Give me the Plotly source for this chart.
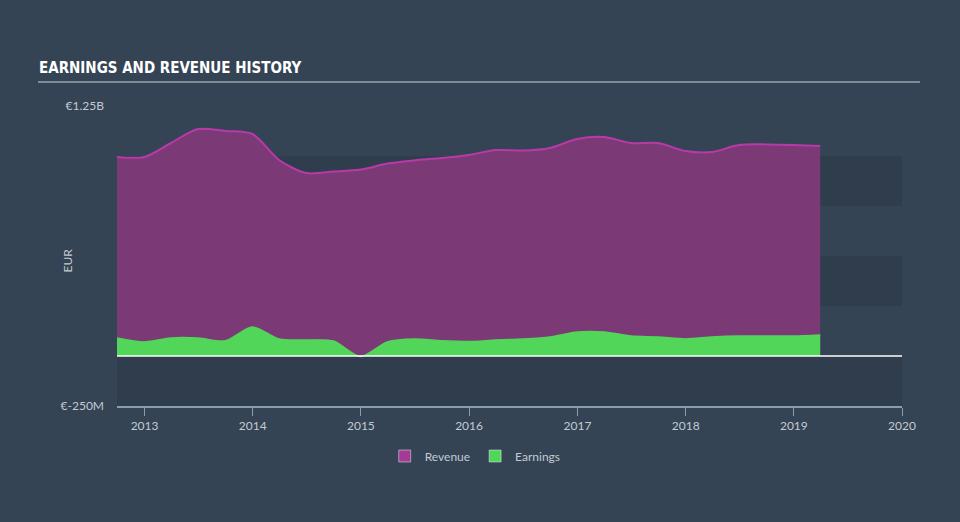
import plotly.graph_objects as go

dates = [
    "2012-09-30", "2012-12-31", "2013-03-31", "2013-06-30", "2013-09-30",
    "2013-12-31", "2014-03-31", "2014-06-30", "2014-09-30", "2014-12-31",
    "2015-03-31", "2015-06-30", "2015-09-30", "2015-12-31", "2016-03-31",
    "2016-06-30", "2016-09-30", "2016-12-31", "2017-03-31", "2017-06-30",
    "2017-09-30", "2017-12-31", "2018-03-31", "2018-06-30", "2018-09-30",
    "2018-12-31", "2019-03-31",
]
revenue = [
    995e6, 995e6, 1065e6, 1135e6, 1125e6,
    1110e6, 980e6, 915e6, 922e6, 932e6,
    962e6, 978e6, 990e6, 1005e6, 1030e6,
    1027e6, 1040e6, 1085e6, 1095e6, 1065e6,
    1065e6, 1025e6, 1020e6, 1055e6, 1058e6,
    1055e6, 1050e6,
]
earnings = [
    90e6, 70e6, 90e6, 90e6, 76e6,
    145e6, 85e6, 80e6, 75e6, -3e6,
    70e6, 85e6, 76e6, 72e6, 80e6,
    85e6, 95e6, 120e6, 120e6, 100e6,
    95e6, 85e6, 95e6, 100e6, 100e6,
    100e6, 105e6,
]
y_ticks = [-250e6, 1.25e9]
y_tick_text = ["€-250M", "€1.25B"]
x_ticks = ["2013-01-01", "2014-01-01", "2015-01-01", "2016-01-01",
           "2017-01-01", "2018-01-01", "2019-01-01", "2020-01-01"]
x_tick_text = ["2013", "2014", "2015", "2016", "2017", "2018", "2019", "2020"]
bands = [(-250e6, 0), (250e6, 500e6), (750e6, 1e9)]

BG = "#344454"
BAND = "#2f3d4c"
FONT = "Lato, Roboto, sans-serif"

fig = go.Figure()
fig.add_trace(go.Scatter(
    x=dates, y=revenue, name="Revenue", mode="lines", showlegend=False,
    line=dict(color="#b83aa8", width=2, shape="spline", smoothing=0.8),
    fill="tozeroy", fillcolor="#7b3a76",
))
fig.add_trace(go.Scatter(
    x=dates, y=earnings, name="Earnings", mode="lines", showlegend=False,
    line=dict(color="#52d659", width=1.5, shape="spline", smoothing=0.8),
    fill="tozeroy", fillcolor="#52d659",
))
# legend entries (square swatches)
fig.add_trace(go.Bar(x=[None], y=[None], name="Revenue", marker_color="#a53a95"))
fig.add_trace(go.Bar(x=[None], y=[None], name="Earnings", marker_color="#52d659"))

for y0, y1 in bands:
    fig.add_shape(type="rect", xref="paper", yref="y", x0=0, x1=1, y0=y0, y1=y1,
                  fillcolor=BAND, line=dict(width=0), layer="below")
fig.add_shape(type="line", xref="paper", yref="y", x0=0, x1=1, y0=0, y1=0,
              line=dict(color="#ffffff", width=1.5), layer="above")

# title and underline
fig.add_annotation(text="<b>EARNINGS AND REVENUE HISTORY</b>", xref="paper", yref="paper",
                   x=(37 - 117) / 785, y=(406 - 68) / 300, xanchor="left", yanchor="middle",
                   showarrow=False,
                   font=dict(family="Liberation Sans Narrow, DejaVu Sans Condensed, sans-serif",
                             size=15, color="#ffffff"))
fig.add_shape(type="line", xref="paper", yref="paper",
              x0=(38 - 117) / 785, x1=(920 - 117) / 785,
              y0=(406 - 82) / 300, y1=(406 - 82) / 300,
              line=dict(color="#9aa3ad", width=1.5))
fig.add_annotation(text="EUR", xref="paper", yref="paper",
                   x=(57 - 117) / 785, y=(406 - 261) / 300, textangle=-90,
                   showarrow=False, font=dict(family=FONT, size=12, color="#c3cad3"))

fig.update_layout(
    width=960, height=522,
    margin=dict(l=117, r=58, t=106, b=116, autoexpand=False),
    paper_bgcolor=BG, plot_bgcolor=BG,
    font=dict(family=FONT, color="#c3cad3", size=12),
    showlegend=True,
    legend=dict(orientation="h", xref="container", yref="container",
                x=0.495, y=1 - 456 / 522, xanchor="center", yanchor="middle",
                font=dict(size=12, color="#c3cad3"), bgcolor="rgba(0,0,0,0)"),
    xaxis=dict(type="date", range=["2012-09-30", "2020-01-01"],
               tickvals=x_ticks, ticktext=x_tick_text,
               showgrid=False, zeroline=False,
               showline=True, linecolor="#8d9bae", linewidth=1.5,
               ticks="outside", ticklen=8, tickcolor="#8d9bae", tickwidth=1,
               tickfont=dict(size=12, color="#c3cad3")),
    yaxis=dict(range=[-250e6, 1.25e9], tickvals=y_ticks, ticktext=y_tick_text,
               showgrid=False, zeroline=False, showline=False, ticks="",
               ticklabelstandoff=12,
               tickfont=dict(size=12, color="#c3cad3")),
)

fig.write_html("out.html")
